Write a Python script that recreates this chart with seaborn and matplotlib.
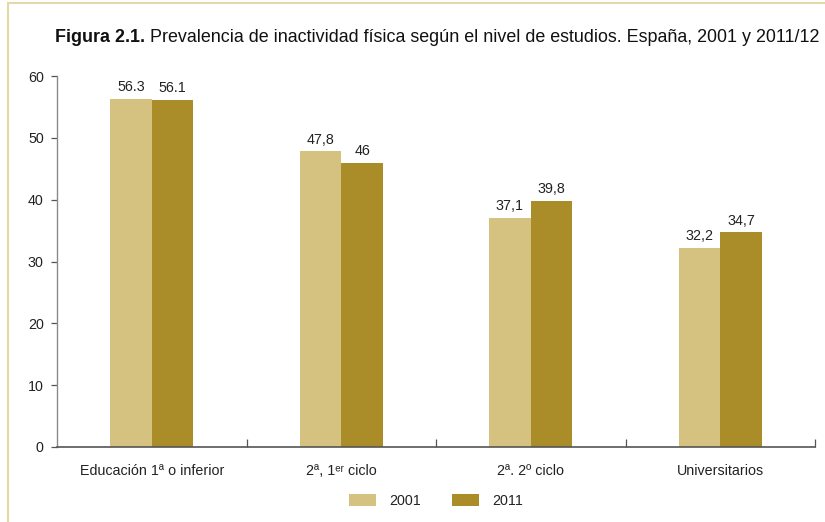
import matplotlib
matplotlib.use("Agg")
import matplotlib.pyplot as plt
from matplotlib.patches import Patch
from matplotlib.lines import Line2D
import seaborn as sns
import pandas as pd

# Data
categories = ["Educación 1ª o inferior", "2ª, 1ᵉʳ ciclo", "2ª. 2º ciclo", "Universitarios"]
values_2001 = [56.3, 47.8, 37.1, 32.2]
values_2011 = [56.1, 46.0, 39.8, 34.7]
labels_2001 = ["56.3", "47,8", "37,1", "32,2"]
labels_2011 = ["56.1", "46", "39,8", "34,7"]
years = ["2001", "2011"]
y_ticks = [0, 10, 20, 30, 40, 50, 60]

title_bold = "Figura 2.1."
title_rest = " Prevalencia de inactividad física según el nivel de estudios. España, 2001 y 2011/12"

col_2001 = "#D6C280"
col_2011 = "#AA8D29"
frame_col = "#E6D7A6"

sns.set_theme(style="white")
plt.rcParams["font.family"] = ["Liberation Sans", "DejaVu Sans"]

df = pd.DataFrame({
    "categoria": categories * 2,
    "anio": [years[0]] * len(categories) + [years[1]] * len(categories),
    "valor": values_2001 + values_2011,
})

fig = plt.figure(figsize=(8.25, 5.22), dpi=100)
ax = fig.add_axes([57 / 825, 75 / 522, 758 / 825, 371 / 522])

sns.barplot(data=df, x="categoria", y="valor", hue="anio", order=categories,
            hue_order=years, palette=[col_2001, col_2011], width=0.44,
            saturation=1, linewidth=0, legend=False, ax=ax)

# Value labels above each bar
for container, labs in zip(ax.containers, [labels_2001, labels_2011]):
    ax.bar_label(container, labels=labs, padding=3.5, fontsize=10.3, color="#222222")

ax.set_xlim(-0.5, len(categories) - 0.5)
ax.set_ylim(0, 60)
ax.set_yticks(y_ticks)
ax.set_xlabel("")
ax.set_ylabel("")

# Axis styling
for side in ["top", "right"]:
    ax.spines[side].set_visible(False)
ax.spines["left"].set_color("#8a8a8a")
ax.spines["left"].set_linewidth(1.0)
ax.spines["bottom"].set_color("#555555")
ax.spines["bottom"].set_linewidth(1.2)

ax.tick_params(axis="y", which="major", direction="out", length=4.5, width=0.9,
               color="#555555", pad=5, labelsize=10.3, labelcolor="#222222", left=True)
ax.tick_params(axis="x", which="major", length=0, pad=12, labelsize=10.3, labelcolor="#222222")

# Separator ticks between categories
ax.set_xticks([i + 0.5 for i in range(len(categories))], minor=True)
ax.tick_params(axis="x", which="minor", direction="in", length=5.5, width=0.9,
               color="#555555", bottom=True)

# Title: bold lead followed by regular text
fig.canvas.draw()
renderer = fig.canvas.get_renderer()
t1 = fig.text(55 / 825, 1 - 37 / 522, title_bold, fontsize=12.9, fontweight="bold",
              va="center", ha="left", color="#111111")
bb = t1.get_window_extent(renderer=renderer)
fig.text(bb.x1 / fig.bbox.width, 1 - 37 / 522, title_rest, fontsize=12.9,
         va="center", ha="left", color="#111111")

# Legend
handles = [Patch(facecolor=col_2001, edgecolor="none", label=years[0]),
           Patch(facecolor=col_2011, edgecolor="none", label=years[1])]
fig.legend(handles=handles, loc="center", bbox_to_anchor=(436 / 825, 1 - 501 / 522),
           ncol=2, frameon=False, fontsize=10.3, handlelength=1.9, handleheight=0.9,
           handletextpad=0.9, columnspacing=2.2, labelcolor="#222222")

# Light frame along the top and left edges
fig.add_artist(Line2D([8 / 825, 1], [1 - 2.5 / 522, 1 - 2.5 / 522],
                      transform=fig.transFigure, color=frame_col, linewidth=1.5))
fig.add_artist(Line2D([8 / 825, 8 / 825], [0, 1 - 2.5 / 522],
                      transform=fig.transFigure, color=frame_col, linewidth=1.5))

fig.savefig("out.png", dpi=100)
